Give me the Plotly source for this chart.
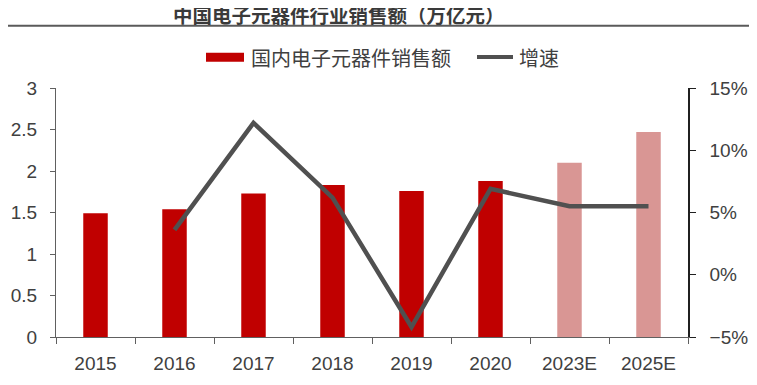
import plotly.graph_objects as go

categories = ["2015", "2016", "2017", "2018", "2019", "2020", "2023E", "2025E"]
sales = [1.49, 1.54, 1.73, 1.83, 1.76, 1.88, 2.10, 2.47]
growth_x = ["2016", "2017", "2018", "2019", "2020", "2023E", "2025E"]
growth = [3.6, 12.2, 6.2, -4.2, 6.9, 5.5, 5.5]
bar_colors = ["#C00000"] * 6 + ["#D99694"] * 2
title_text = "中国电子元器件行业销售额（万亿元）"
bar_name = "国内电子元器件销售额"
line_name = "增速"

# page body has an 8px margin; plot area in window coords: x 56..688, y 88..337
W, H = 749, 377
L, R, T, B = 48, 69, 80, 48
PW, PH = W - L - R, H - T - B


def px(wx):
    return (wx - 8 - L) / PW


def py(wy):
    return (H - B - (wy - 8)) / PH


fig = go.Figure()
fig.add_trace(go.Bar(x=categories, y=sales, name=bar_name,
                     marker=dict(color=bar_colors, line=dict(width=0)),
                     width=0.31, showlegend=False))
fig.add_trace(go.Scatter(x=growth_x, y=growth, name=line_name, mode="lines",
                         line=dict(color="#505050", width=4.5), yaxis="y2",
                         showlegend=False))

tick_font = dict(family="Liberation Sans, Arial, sans-serif", size=19, color="#404040")
fig.update_layout(
    width=W, height=H,
    margin=dict(l=L, r=R, t=T, b=B, autoexpand=False),
    paper_bgcolor="white", plot_bgcolor="white",
    showlegend=False,
    xaxis=dict(type="category", showline=True, linecolor="#606060", linewidth=1.2,
               ticks="outside", tickson="boundaries", ticklen=6, tickcolor="#606060",
               tickfont=tick_font, showgrid=False, ticklabelstandoff=9, automargin=False),
    yaxis=dict(range=[0, 3], dtick=0.5, showline=True, linecolor="#606060", linewidth=1.2,
               ticks="outside", ticklen=5, tickcolor="#606060", tickfont=tick_font,
               showgrid=False, zeroline=False, ticklabelstandoff=9, automargin=False),
    yaxis2=dict(range=[-5, 15], dtick=5, overlaying="y", side="right", showline=True,
                linecolor="#202020", linewidth=1.5, ticks="outside", ticklen=6,
                tickcolor="#202020", ticksuffix="%", tickfont=tick_font,
                showgrid=False, zeroline=False, ticklabelstandoff=10, automargin=False),
)

shapes = [
    dict(type="line", xref="paper", yref="paper", x0=px(0), x1=px(757),
         y0=py(25.7), y1=py(25.7), line=dict(color="#5a5a5a", width=2)),
    dict(type="rect", xref="paper", yref="paper", x0=px(206), x1=px(244),
         y0=py(61.7), y1=py(52.7), fillcolor="#C00000", line=dict(width=0)),
    dict(type="line", xref="paper", yref="paper", x0=px(477), x1=px(513),
         y0=py(57), y1=py(57), line=dict(color="#505050", width=4)),
]
annotations = [
    dict(text="<b>" + title_text + "</b>", xref="paper", yref="paper",
         x=px(338.5), y=py(15), xanchor="center", yanchor="middle", showarrow=False,
         font=dict(family="Noto Sans CJK SC", size=19.5, color="#3a3a3a")),
    dict(text=bar_name, xref="paper", yref="paper", x=px(249), y=py(57),
         xanchor="left", yanchor="middle", showarrow=False,
         font=dict(family="Noto Sans CJK SC", size=20, color="#404040")),
    dict(text=line_name, xref="paper", yref="paper", x=px(517), y=py(57),
         xanchor="left", yanchor="middle", showarrow=False,
         font=dict(family="Noto Sans CJK SC", size=20, color="#404040")),
]
fig.update_layout(shapes=shapes, annotations=annotations)
fig.write_html("out.html")
